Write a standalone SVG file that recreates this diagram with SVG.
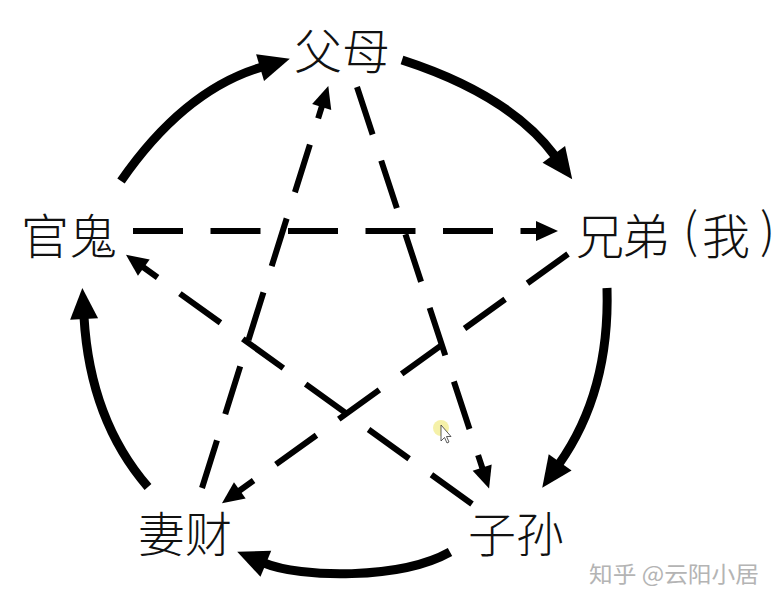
<svg xmlns="http://www.w3.org/2000/svg" width="780" height="605" viewBox="0 0 780 605">
  <style>
    .label { font-family: "Noto Sans CJK SC", "Noto Sans CJK JP", sans-serif; font-size: 48px; font-weight: 300; fill: #111; }
    .solid { fill: none; stroke: #000; stroke-width: 9; stroke-linecap: butt; }
    .dash { fill: none; stroke: #000; stroke-width: 6; stroke-dasharray: 50 27.5; stroke-linecap: butt; }
    .wm { font-family: "Noto Sans CJK SC", sans-serif; font-size: 22px; fill: #b4b4b4; }
  </style>
  <defs>
    <marker id="ah-big" markerUnits="userSpaceOnUse" markerWidth="40" markerHeight="40" viewBox="-5 -20 40 40" refX="0" refY="0" orient="auto" overflow="visible">
      <path d="M-2,-14 L29,0 L-2,14 Z" fill="#000"/>
    </marker>
    <marker id="ah-small" markerUnits="userSpaceOnUse" markerWidth="30" markerHeight="30" viewBox="-5 -15 30 30" refX="0" refY="0" orient="auto" overflow="visible">
      <path d="M-1,-10 L21,0 L-1,10 Z" fill="#000"/>
    </marker>
  </defs>
  <rect width="780" height="605" fill="#fff"/>

  <g id="connectors">
    <!-- generating cycle (solid) -->
    <path class="solid" d="M121,181 Q184,90 262,67" marker-end="url(#ah-big)"/>
    <path class="solid" d="M402,60 Q510,95 555,156" marker-end="url(#ah-big)"/>
    <path class="solid" d="M607,288 Q610,392 559,464" marker-end="url(#ah-big)"/>
    <path class="solid" d="M450,552 C400,580 300,578 264,563" marker-end="url(#ah-big)"/>
    <path class="solid" d="M148,487 Q90,420 84,317" marker-end="url(#ah-big)"/>
    <!-- controlling cycle (dashed) -->
    <path class="dash" d="M133,231 L537,231" marker-end="url(#ah-small)"/>
    <path class="dash" d="M357,87 L482.5,468.5" marker-end="url(#ah-small)"/>
    <path class="dash" d="M202,488 L322,106" marker-end="url(#ah-small)"/>
    <path class="dash" d="M568,254 L239,491" marker-end="url(#ah-small)"/>
    <path class="dash" d="M472,504 L143,267" marker-end="url(#ah-small)"/>
  </g>

  <g id="node-fumu">
    <text class="label" x="294" y="69" textLength="96" lengthAdjust="spacingAndGlyphs">父母</text>
  </g>
  <g id="node-xiongdi">
    <text class="label" y="254"><tspan x="576">兄</tspan><tspan x="622">弟</tspan><tspan x="683" y="248">(</tspan><tspan x="702" y="254">我</tspan><tspan x="760" y="248">)</tspan></text>
  </g>
  <g id="node-zisun">
    <text class="label" x="468" y="552" textLength="96" lengthAdjust="spacingAndGlyphs">子孙</text>
  </g>
  <g id="node-qicai">
    <text class="label" x="138" y="552" textLength="94" lengthAdjust="spacingAndGlyphs">妻财</text>
  </g>
  <g id="node-guangui">
    <text class="label" x="21" y="254" textLength="96" lengthAdjust="spacingAndGlyphs">官鬼</text>
  </g>

  <!-- mouse cursor with highlight -->
  <circle cx="441" cy="428" r="8" fill="#f3ef9a" opacity="0.85"/>
  <path d="M441,425 L441,441 L444.5,437.5 L447,443 L449,442 L446.5,436.5 L451,436.5 Z" fill="#fff" stroke="#333" stroke-width="0.8"/>

  <text class="wm" x="589" y="582" textLength="170" lengthAdjust="spacingAndGlyphs">知乎 @云阳小居</text>
</svg>
